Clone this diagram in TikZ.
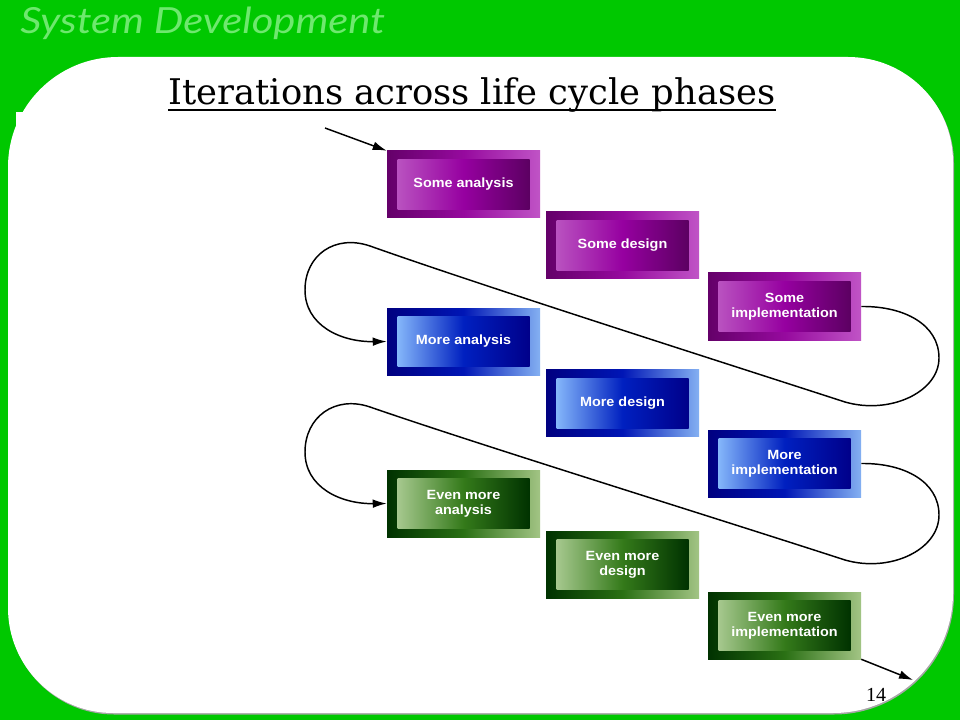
\documentclass[tikz,border=0pt]{standalone}
\usepackage{fontspec}
\usetikzlibrary{arrows.meta}
\newfontfamily\boxfont[FakeStretch=1.08]{Liberation Sans}
\newfontfamily\titlefont{DejaVu Serif}
\newfontfamily\headfont{Lato}
\newfontfamily\numfont{Liberation Serif}
\definecolor{bggreen}{RGB}{0,200,0}
\definecolor{headgreen}{RGB}{110,232,110}
\definecolor{PoL}{RGB}{100,0,105}
\definecolor{PoM}{RGB}{150,10,158}
\definecolor{PoR}{RGB}{192,84,198}
\definecolor{PiL}{RGB}{185,82,192}
\definecolor{PiM}{RGB}{150,0,160}
\definecolor{PiR}{RGB}{92,0,98}
\definecolor{BoL}{RGB}{0,0,128}
\definecolor{BoM}{RGB}{0,22,182}
\definecolor{BoR}{RGB}{132,176,242}
\definecolor{BiL}{RGB}{132,182,250}
\definecolor{BiM}{RGB}{0,32,192}
\definecolor{BiR}{RGB}{0,0,138}
\definecolor{GoL}{RGB}{0,50,0}
\definecolor{GoM}{RGB}{42,112,20}
\definecolor{GoR}{RGB}{162,196,132}
\definecolor{GiL}{RGB}{166,200,142}
\definecolor{GiM}{RGB}{52,122,26}
\definecolor{GiR}{RGB}{0,50,0}
\tikzset{
  outerbox/.style={rectangle, minimum width=114.75pt, minimum height=50.25pt, inner sep=0pt},
  innerbox/.style={rectangle, minimum width=99pt, minimum height=37.5pt, inner sep=0pt,
    text=white, align=center, font={\boxfont\bfseries\fontsize{10pt}{9.6pt}\selectfont}},
  purpleout/.style={outerbox, left color=PoL, right color=PoR, middle color=PoM},
  purplein/.style={innerbox, left color=PiL, right color=PiR, middle color=PiM},
  blueout/.style={outerbox, left color=BoL, right color=BoR, middle color=BoM},
  bluein/.style={innerbox, left color=BiL, right color=BiR, middle color=BiM},
  greenout/.style={outerbox, left color=GoL, right color=GoR, middle color=GoM},
  greenin/.style={innerbox, left color=GiL, right color=GiR, middle color=GiM},
  flow/.style={draw=black, line width=1.1pt, -{Latex[length=10.5pt,width=6.5pt]}},
}
\begin{document}
\begin{tikzpicture}[x=0.75pt,y=-0.75pt]
\fill[bggreen] (0,0) rectangle (960,720);
\useasboundingbox (0,0) rectangle (960,720);
% shadow of panel
\fill[black!35] ([shift={(1,1.5)}]8,167) .. controls ([shift={(1,1.5)}]8,106.25) and ([shift={(1,1.5)}]57.25,57) .. ([shift={(1,1.5)}]118,57)
  -- ([shift={(1,1.5)}]848,57) .. controls ([shift={(1,1.5)}]906,57) and ([shift={(1,1.5)}]953,104) .. ([shift={(1,1.5)}]953,162)
  -- ([shift={(1,1.5)}]953,593) .. controls ([shift={(1,1.5)}]953,659.3) and ([shift={(1,1.5)}]899.3,713) .. ([shift={(1,1.5)}]833,713)
  -- ([shift={(1,1.5)}]113,713) .. controls ([shift={(1,1.5)}]55,713) and ([shift={(1,1.5)}]8,666) .. ([shift={(1,1.5)}]8,608) -- cycle;
% white panel
\fill[white] (8,167) .. controls (8,106.25) and (57.25,57) .. (118,57)
  -- (848,57) .. controls (906,57) and (953,104) .. (953,162)
  -- (953,593) .. controls (953,659.3) and (899.3,713) .. (833,713)
  -- (113,713) .. controls (55,713) and (8,666) .. (8,608) -- cycle;
\fill[white] (16,112) rectangle (60,200);
% header
\node[anchor=base west, inner sep=0pt, text=headgreen, font={\headfont\itshape\fontsize{27pt}{30pt}\selectfont}] (head) at (20,34) {\scalebox{1.16}[1]{System Development}};
% title
\node[anchor=base, inner sep=0pt, font={\titlefont\fontsize{26.5pt}{30pt}\selectfont}] (title) at (472,105) {Iterations across life cycle phases};
\draw[line width=1.5pt] (168,110.5) -- (776,110.5);
% boxes
\node[purpleout] (sa) at (463.5,184.5) {};
\node[purplein] (sa-in) at (sa.center) {Some analysis};
\node[purpleout] (sd) at (622.5,245.5) {};
\node[purplein] (sd-in) at (sd.center) {Some design};
\node[purpleout] (si) at (784.5,306.5) {};
\node[purplein] (si-in) at (si.center) {Some\\[1.5pt]implementation};
\node[blueout] (ma) at (463.5,341.5) {};
\node[bluein] (ma-in) at (ma.center) {More analysis};
\node[blueout] (md) at (622.5,403) {};
\node[bluein] (md-in) at (md.center) {More design};
\node[blueout] (mi) at (784.5,463.5) {};
\node[bluein] (mi-in) at (mi.center) {More\\[1.5pt]implementation};
\node[greenout] (ema) at (463.5,503.5) {};
\node[greenin] (ema-in) at (ema.center) {Even more\\[1.5pt]analysis};
\node[greenout] (emd) at (622.5,564.5) {};
\node[greenin] (emd-in) at (emd.center) {Even more\\[1.5pt]design};
\node[greenout] (emi) at (784.5,625.5) {};
\node[greenin] (emi-in) at (emi.center) {Even more\\[1.5pt]implementation};
% connectors
\coordinate (start) at (325,128);
\coordinate (finish) at (913,680);
\draw[flow] (start) -- (sa.north west);
\draw[flow] (si.east) .. controls (905,306) and (939,325) .. (939,358)
  .. controls (939,392) and (890,415) .. (845,402)
  .. controls (700,355) and (480,285) .. (370,246)
  .. controls (335,234) and (305,255) .. (305,290)
  .. controls (305,325) and (340,342) .. (ma.west);
\draw[flow] (mi.east) .. controls (905,463) and (939,482) .. (939,515)
  .. controls (939,550) and (890,573) .. (845,560)
  .. controls (700,513) and (480,445) .. (370,407)
  .. controls (335,395) and (305,417) .. (305,452)
  .. controls (305,487) and (340,504) .. (ema.west);
\draw[flow] (emi.south east) -- (finish);
% page number
\node[anchor=base, inner sep=0pt, font={\numfont\fontsize{15pt}{18pt}\selectfont}] (pagenum) at (876,701) {14};
\end{tikzpicture}
\end{document}
